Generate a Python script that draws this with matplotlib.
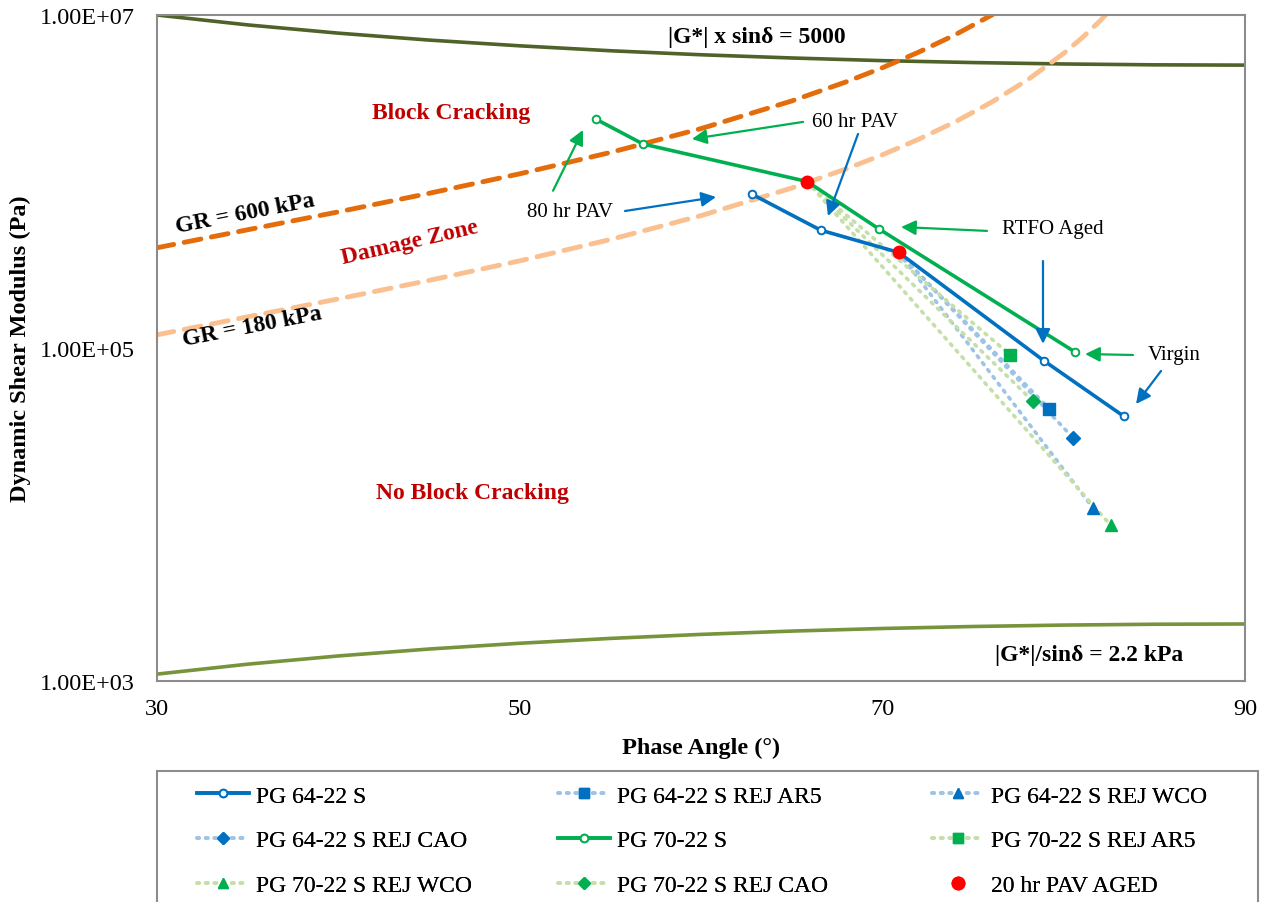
import matplotlib
matplotlib.use('Agg')
import matplotlib.pyplot as plt
from matplotlib.lines import Line2D
from matplotlib.patches import Rectangle

plt.rcParams['font.family'] = ['Liberation Serif', 'DejaVu Serif']

# binder data (phase angle in deg, |G*| in Pa)
# order: virgin, RTFO, 20 hr PAV, 60 hr PAV, 80 hr PAV
pg64_delta = [83.3, 78.9, 70.9, 66.6, 62.8]
pg64_g = [3.9e4, 8.4e4, 3.75e5, 5.1e5, 8.4e5]
pg70_delta = [80.6, 69.8, 65.85, 56.8, 54.2]
pg70_g = [9.5e4, 5.2e5, 1.0e6, 1.68e6, 2.37e6]

pav20_delta = [65.85, 70.9]
pav20_g = [1.0e6, 3.75e5]

# rejuvenated binders (single point each)
rej_names = ['PG 64-22 S REJ AR5', 'PG 64-22 S REJ WCO', 'PG 64-22 S REJ CAO',
             'PG 70-22 S REJ AR5', 'PG 70-22 S REJ WCO', 'PG 70-22 S REJ CAO']
rej_delta = [79.2, 81.6, 80.5, 77.05, 82.6, 78.3]
rej_g = [4.3e4, 1.1e4, 2.9e4, 9.1e4, 8.6e3, 4.8e4]
rej_base = [64, 64, 64, 70, 70, 70]
rej_marker = ['s', '^', 'D', 's', '^', 'D']

# limit curves
lim_delta = [30, 35, 40, 45, 50, 55, 60, 65, 70, 75, 80, 85, 90]
g5000 = [1.0e7, 8.72e6, 7.78e6, 7.07e6, 6.53e6, 6.10e6, 5.77e6, 5.52e6,
         5.32e6, 5.18e6, 5.08e6, 5.02e6, 5.0e6]
g22 = [1100, 1262, 1414, 1556, 1685, 1802, 1905, 1994, 2067, 2125, 2167, 2192, 2200]

gr600_delta = [30, 35, 40, 45, 50, 55, 60, 65, 68, 70, 72, 74, 76, 77]
gr600_g = [4.0e5, 5.13e5, 6.57e5, 8.49e5, 1.112e6, 1.494e6, 2.078e6, 3.045e6,
           3.965e6, 4.82e6, 5.98e6, 7.59e6, 9.95e6, 1.155e7]
gr180_delta = [30, 35, 40, 45, 50, 55, 60, 65, 68, 70, 72, 74, 76, 78, 80, 81, 82, 83]
gr180_g = [1.2e5, 1.539e5, 1.972e5, 2.546e5, 3.337e5, 4.482e5, 6.235e5, 9.133e5,
           1.19e6, 1.446e6, 1.793e6, 2.277e6, 2.984e6, 4.07e6, 5.88e6, 7.27e6,
           9.2e6, 1.203e7]

blue = '#0070C0'
green = '#00B050'
blue_dot = '#9DC3E6'
green_dot = '#C5DFA8'
dark_red = '#C00000'

fig = plt.figure(figsize=(12.67, 9.03), dpi=100)
ax = fig.add_axes([157 / 1267, 1 - 682 / 903, 1088 / 1267, 666 / 903])

ax.plot(lim_delta, g5000, color='#4F6228', lw=2.6, zorder=2)
ax.plot(lim_delta, g22, color='#77933C', lw=2.6, zorder=2)
ax.plot(gr600_delta, gr600_g, color='#E46C0A', lw=3.5, dashes=(3.5, 2.2),
        dash_capstyle='round', zorder=2)
ax.plot(gr180_delta, gr180_g, color='#FAC090', lw=3.5, dashes=(3.5, 2.2),
        dash_capstyle='round', zorder=2)

h64, = ax.plot(pg64_delta, pg64_g, color=blue, lw=2.6, marker='o', ms=5.5,
               mfc='white', mec=blue, mew=1.4, zorder=4, label='PG 64-22 S')
h70, = ax.plot(pg70_delta, pg70_g, color=green, lw=2.6, marker='o', ms=5.5,
               mfc='white', mec=green, mew=1.4, zorder=4, label='PG 70-22 S')

rej_handles = []
for name, d, g, base, mk in zip(rej_names, rej_delta, rej_g, rej_base, rej_marker):
    if base == 64:
        sx, sy, lc, mc = pav20_delta[1], pav20_g[1], blue_dot, blue
    else:
        sx, sy, lc, mc = pav20_delta[0], pav20_g[0], green_dot, green
    ax.plot([sx, d], [sy, g], color=lc, lw=2.6, ls=(0, (0.6, 1.8)),
            dash_capstyle='round', zorder=3)
    ms = 7 if mk == 'D' else 8
    ax.plot([d], [g], ls='none', marker=mk, ms=ms, color=mc, zorder=5)
    rej_handles.append(Line2D([], [], color=lc, lw=2.6, ls=(0, (0.6, 1.8)),
                              dash_capstyle='round', marker=mk, ms=ms - 0.5,
                              mfc=mc, mec=mc, label=name))

hred, = ax.plot(pav20_delta, pav20_g, ls='none', marker='o', ms=9,
                color='#FF0000', zorder=6, label='20 hr PAV AGED')

ax.set_yscale('log')
ax.set_xlim(30, 90)
ax.set_ylim(1e3, 1e7)
ax.set_xticks([30, 50, 70, 90])
ax.set_yticks([1e3, 1e5, 1e7])
ax.set_yticklabels(['1.00E+03', '1.00E+05', '1.00E+07'])
ax.minorticks_off()
ax.tick_params(length=0, labelsize=17.5)
ax.tick_params(axis='x', pad=12)
ax.tick_params(axis='y', pad=16)
for s in ax.spines.values():
    s.set_color('#8C8C8C')
    s.set_linewidth(1.5)

ax.set_xlabel('Phase Angle (°)', fontsize=17.5, fontweight='bold', labelpad=13)
ax.set_ylabel('Dynamic Shear Modulus (Pa)', fontsize=17.5, fontweight='bold', labelpad=6)

# zone / criteria labels
bold = dict(fontsize=17, fontweight='bold', ha='center', va='center')
ax.text(63.1, 7.4e6, '|G*| x sinδ = 5000', **bold)
ax.text(81.4, 1.45e3, '|G*|/sinδ = 2.2 kPa', **bold)
ax.text(34.85, 6.5e5, 'GR = 600 kPa', rotation=11, **bold)
ax.text(35.25, 1.36e5, 'GR = 180 kPa', rotation=11, **bold)
ax.text(46.2, 2.6e6, 'Block Cracking', color=dark_red, **bold)
ax.text(43.95, 4.3e5, 'Damage Zone', color=dark_red, rotation=13, **bold)
ax.text(47.4, 1.36e4, 'No Block Cracking', color=dark_red, **bold)

# aging-state callouts
lab = dict(fontsize=15, ha='center', va='center')
ax.text(52.8, 6.65e5, '80 hr PAV', **lab)
ax.text(68.5, 2.3e6, '60 hr PAV', **lab)
ax.text(79.4, 5.2e5, 'RTFO Aged', **lab)
ax.text(86.1, 9.2e4, 'Virgin', **lab)


def arrow(x0, y0, x1, y1, c):
    ax.annotate('', xy=(x1, y1), xytext=(x0, y0),
                arrowprops=dict(arrowstyle='-|>', color=c, lw=1.6,
                                mutation_scale=22, shrinkA=0, shrinkB=0),
                zorder=7)


arrow(51.84, 8.8e5, 53.49, 2.04e6, green)
arrow(55.81, 6.65e5, 60.83, 8.07e5, blue)
arrow(65.63, 2.28e6, 59.50, 1.80e6, green)
arrow(68.66, 1.93e6, 67.00, 6.2e5, blue)
arrow(75.77, 5.05e5, 71.03, 5.33e5, green)
arrow(78.86, 3.33e5, 78.86, 1.06e5, blue)
arrow(83.82, 9.08e4, 81.18, 9.2e4, green)
arrow(85.37, 7.28e4, 83.99, 4.61e4, blue)

# legend: three even columns inside one grey box, like the spreadsheet legend
columns = [[h64, rej_handles[2], rej_handles[4]],
           [rej_handles[0], h70, rej_handles[5]],
           [rej_handles[1], rej_handles[3], hred]]
col_x = [197, 558, 932]
for hs, cx in zip(columns, col_x):
    lg = fig.legend(hs, [h.get_label() for h in hs], loc='upper left',
                    bbox_to_anchor=(cx / 1267, 1 - 786 / 903),
                    fontsize=17, frameon=False, handlelength=2.2,
                    handletextpad=0.3, labelspacing=0.98, borderpad=0,
                    borderaxespad=0)
    fig.add_artist(lg)
fig.add_artist(Rectangle((157 / 1267, -0.02), 1101 / 1267, 0.02 + 1 - 772 / 903,
                         transform=fig.transFigure, fill=False,
                         edgecolor='#8C8C8C', lw=1.5))

fig.savefig('out.png', dpi=100)
